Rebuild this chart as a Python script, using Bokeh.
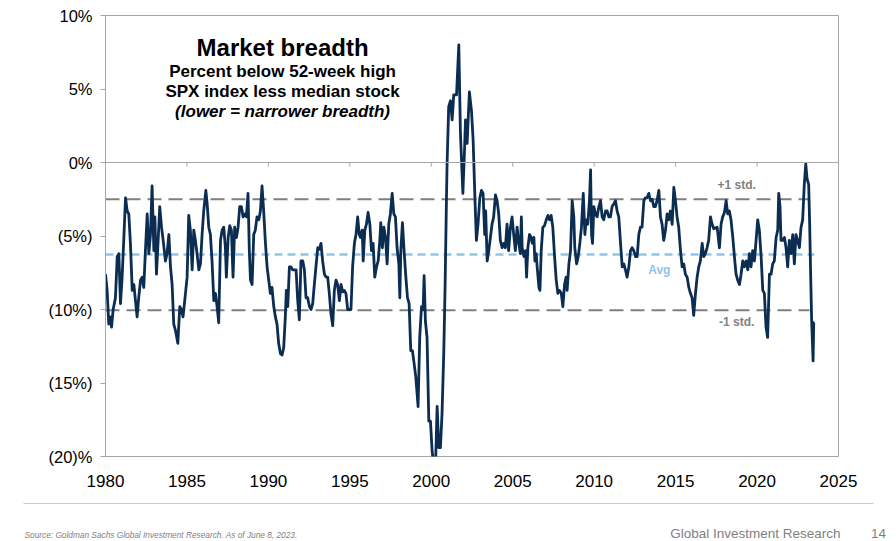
from bokeh.plotting import figure
from bokeh.models import Range1d, FixedTicker, Span, Label, ColumnDataSource
from bokeh.layouts import column, row
from bokeh.embed import file_html
from bokeh.resources import INLINE

# ---------------- data ----------------
dates = [
    1980.00, 1980.10, 1980.20, 1980.31, 1980.37, 1980.47, 1980.61, 1980.72, 1980.82, 1980.92,
    1981.02, 1981.12, 1981.23, 1981.33, 1981.43, 1981.53, 1981.64, 1981.74, 1981.84, 1981.94,
    1982.04, 1982.15, 1982.25, 1982.35, 1982.45, 1982.56, 1982.66, 1982.76, 1982.86, 1982.97,
    1983.03, 1983.13, 1983.21, 1983.33, 1983.44, 1983.54, 1983.68, 1983.78, 1983.89, 1983.99,
    1984.09, 1984.19, 1984.29, 1984.44, 1984.56, 1984.66, 1984.76, 1984.91, 1985.01, 1985.11,
    1985.21, 1985.32, 1985.42, 1985.52, 1985.62, 1985.73, 1985.83, 1985.93, 1986.03, 1986.16,
    1986.24, 1986.34, 1986.44, 1986.54, 1986.65, 1986.75, 1986.85, 1986.95, 1987.06, 1987.16,
    1987.26, 1987.36, 1987.42, 1987.53, 1987.63, 1987.73, 1987.83, 1987.93, 1988.04, 1988.14,
    1988.24, 1988.34, 1988.45, 1988.55, 1988.65, 1988.75, 1988.83, 1988.90, 1989.00, 1989.10,
    1989.20, 1989.30, 1989.41, 1989.51, 1989.61, 1989.71, 1989.82, 1989.92, 1990.02, 1990.12,
    1990.22, 1990.33, 1990.43, 1990.53, 1990.63, 1990.74, 1990.84, 1990.94, 1991.04, 1991.10,
    1991.19, 1991.29, 1991.39, 1991.49, 1991.60, 1991.70, 1991.80, 1991.90, 1992.00, 1992.11,
    1992.21, 1992.31, 1992.41, 1992.52, 1992.62, 1992.72, 1992.82, 1992.92, 1993.03, 1993.13,
    1993.23, 1993.33, 1993.44, 1993.54, 1993.64, 1993.74, 1993.84, 1993.95, 1994.05, 1994.15,
    1994.25, 1994.36, 1994.46, 1994.56, 1994.66, 1994.76, 1994.87, 1994.97, 1995.07, 1995.17,
    1995.28, 1995.38, 1995.48, 1995.58, 1995.65, 1995.76, 1995.82, 1995.92, 1996.02, 1996.12,
    1996.23, 1996.33, 1996.43, 1996.53, 1996.64, 1996.74, 1996.84, 1996.90, 1997.00, 1997.09,
    1997.19, 1997.29, 1997.39, 1997.49, 1997.60, 1997.70, 1997.80, 1997.90, 1998.01, 1998.07,
    1998.13, 1998.23, 1998.33, 1998.44, 1998.54, 1998.64, 1998.74, 1998.84, 1998.95, 1999.05,
    1999.19, 1999.29, 1999.40, 1999.50, 1999.56, 1999.64, 1999.74, 1999.85, 1999.95, 2000.05,
    2000.15, 2000.26, 2000.36, 2000.46, 2000.56, 2000.66, 2000.77, 2000.85, 2000.93, 2000.97,
    2001.07, 2001.18, 2001.28, 2001.38, 2001.55, 2001.69, 2001.79, 2001.94, 2002.04, 2002.10,
    2002.20, 2002.34, 2002.47, 2002.57, 2002.67, 2002.77, 2002.87, 2002.98, 2003.08, 2003.18,
    2003.28, 2003.34, 2003.43, 2003.53, 2003.63, 2003.73, 2003.83, 2003.94, 2004.04, 2004.14,
    2004.24, 2004.35, 2004.45, 2004.55, 2004.65, 2004.75, 2004.86, 2004.96, 2005.06, 2005.16,
    2005.27, 2005.37, 2005.47, 2005.53, 2005.58, 2005.69, 2005.79, 2005.85, 2005.93, 2006.03,
    2006.13, 2006.20, 2006.30, 2006.36, 2006.44, 2006.50, 2006.61, 2006.67, 2006.75, 2006.85,
    2006.95, 2007.06, 2007.16, 2007.26, 2007.36, 2007.46, 2007.57, 2007.67, 2007.77, 2007.87,
    2007.98, 2008.08, 2008.18, 2008.28, 2008.34, 2008.45, 2008.55, 2008.65, 2008.75, 2008.81,
    2008.92, 2009.02, 2009.12, 2009.22, 2009.33, 2009.43, 2009.51, 2009.61, 2009.71, 2009.78,
    2009.84, 2009.90, 2009.98, 2010.08, 2010.18, 2010.29, 2010.39, 2010.49, 2010.59, 2010.70,
    2010.80, 2010.90, 2011.00, 2011.10, 2011.21, 2011.31, 2011.41, 2011.51, 2011.62, 2011.72,
    2011.82, 2011.92, 2012.02, 2012.13, 2012.23, 2012.33, 2012.43, 2012.54, 2012.64, 2012.74,
    2012.84, 2012.94, 2013.05, 2013.15, 2013.25, 2013.35, 2013.46, 2013.56, 2013.66, 2013.76,
    2013.86, 2013.97, 2014.07, 2014.17, 2014.27, 2014.38, 2014.48, 2014.58, 2014.68, 2014.79,
    2014.89, 2014.99, 2015.09, 2015.19, 2015.30, 2015.40, 2015.50, 2015.60, 2015.71, 2015.81,
    2015.91, 2016.01, 2016.11, 2016.22, 2016.32, 2016.42, 2016.52, 2016.63, 2016.73, 2016.83,
    2016.93, 2017.03, 2017.14, 2017.24, 2017.34, 2017.55, 2017.69, 2017.79, 2017.89, 2018.00,
    2018.10, 2018.20, 2018.30, 2018.40, 2018.51, 2018.61, 2018.71, 2018.81, 2018.92, 2019.02,
    2019.12, 2019.22, 2019.33, 2019.43, 2019.53, 2019.63, 2019.73, 2019.84, 2019.94, 2020.04,
    2020.14, 2020.25, 2020.35, 2020.45, 2020.55, 2020.65, 2020.76, 2020.86, 2020.96, 2021.06,
    2021.17, 2021.27, 2021.33, 2021.41, 2021.47, 2021.57, 2021.68, 2021.78, 2021.88, 2021.98,
    2022.09, 2022.19, 2022.29, 2022.39, 2022.49, 2022.60, 2022.70, 2022.80, 2022.90, 2022.99,
    2023.07, 2023.17, 2023.23, 2023.29, 2023.35, 2023.44, 2023.48, 2023.52,
]
breadth = [
    -7.6, -8.7, -11.0, -10.5, -11.2, -10.0, -9.2, -6.4, -6.2, -9.6,
    -7.8, -5.3, -2.4, -3.3, -3.5, -5.5, -8.7, -8.3, -9.4, -10.5,
    -9.2, -8.0, -7.8, -8.5, -6.0, -3.5, -6.2, -4.9, -1.6, -6.0,
    -3.7, -7.6, -5.8, -3.0, -4.4, -5.3, -6.7, -6.2, -4.9, -7.1,
    -8.3, -11.0, -11.4, -12.3, -9.8, -10.0, -10.5, -8.9, -7.8, -3.6,
    -4.6, -7.3, -4.6, -5.3, -6.2, -7.3, -6.9, -4.9, -3.3, -1.9,
    -2.8, -4.4, -4.9, -6.7, -9.4, -8.9, -9.8, -10.9, -5.3, -4.6,
    -4.4, -5.8, -7.8, -5.1, -4.3, -4.6, -7.8, -4.4, -5.1, -4.4,
    -3.0, -3.0, -3.7, -3.5, -3.7, -2.1, -6.0, -8.0, -8.3, -4.9,
    -4.6, -3.7, -3.9, -3.3, -1.6, -3.3, -5.5, -7.1, -8.0, -8.9,
    -8.5, -9.8, -10.5, -11.0, -12.3, -13.0, -13.1, -12.6, -10.5, -8.7,
    -9.8, -7.1, -7.1, -7.3, -7.3, -7.3, -9.4, -10.7, -6.7, -6.7,
    -7.3, -9.2, -9.2, -9.8, -10.0, -9.6, -8.3, -7.1, -5.8, -5.9,
    -5.5, -6.7, -7.6, -7.8, -7.8, -8.9, -10.3, -11.1, -8.7, -8.0,
    -8.3, -9.4, -8.3, -8.8, -8.7, -8.9, -10.0, -10.0, -10.0, -7.1,
    -5.5, -4.9, -3.7, -4.9, -5.1, -4.6, -6.7, -4.6, -4.2, -3.4,
    -4.2, -6.0, -5.5, -7.8, -7.1, -6.7, -5.3, -4.1, -5.8, -4.4,
    -5.1, -6.9, -4.2, -3.5, -2.1, -3.5, -3.7, -5.8, -6.9, -9.2,
    -6.0, -4.1, -6.0, -7.8, -9.2, -9.6, -12.8, -12.8, -13.7, -14.6,
    -16.6, -11.9, -9.8, -10.0, -7.7, -10.8, -11.9, -17.6, -17.6, -19.6,
    -20.6, -20.6, -16.6, -19.4, -19.4, -17.1, -12.8, -8.3, -2.6, -0.1,
    3.8, 4.2, 2.9, 4.6, 4.6, 8.0, 2.0, -2.1, 0.8, 2.9,
    1.3, 4.8, 3.5, 1.5, -2.1, -5.3, -4.2, -2.4, -1.9, -2.1,
    -4.9, -3.3, -6.7, -6.0, -5.1, -4.2, -3.7, -2.2, -2.6, -3.5,
    -5.3, -5.8, -5.5, -5.8, -4.2, -6.0, -4.4, -3.7, -4.9, -6.0,
    -4.4, -5.5, -6.2, -3.7, -5.8, -6.4, -6.0, -7.8, -5.8, -4.9,
    -5.1, -5.5, -5.1, -6.7, -6.2, -7.1, -8.5, -8.7, -6.0, -4.4,
    -4.3, -3.9, -3.6, -3.9, -3.6, -4.4, -6.4, -8.0, -8.9, -8.7,
    -8.9, -9.8, -8.3, -7.8, -8.7, -6.9, -6.0, -2.6, -3.7, -5.8,
    -6.9, -6.4, -5.5, -4.4, -2.1, -4.9, -3.9, -4.2, -2.6, -0.5,
    -4.9, -5.5, -3.0, -3.5, -3.7, -3.0, -2.6, -3.7, -3.9, -3.3,
    -3.3, -3.7, -3.7, -3.0, -2.8, -2.6, -3.3, -3.7, -5.5, -7.1,
    -6.9, -7.3, -7.8, -7.1, -6.0, -5.8, -6.0, -6.4, -6.4, -4.9,
    -4.4, -4.4, -2.6, -2.4, -2.4, -2.1, -2.6, -2.5, -3.0, -3.0,
    -2.6, -1.9, -3.7, -4.2, -5.3, -4.6, -3.5, -3.9, -3.3, -4.2,
    -1.7, -2.6, -3.7, -4.4, -6.0, -7.1, -6.9, -7.6, -7.8, -8.5,
    -8.9, -9.2, -10.4, -8.9, -7.8, -7.1, -6.7, -5.5, -6.4, -6.2,
    -5.8, -5.3, -3.7, -4.2, -4.5, -4.4, -5.8, -4.2, -3.7, -3.4,
    -2.6, -3.5, -3.3, -3.9, -5.1, -6.4, -7.6, -8.0, -8.3, -7.6,
    -6.7, -7.1, -6.7, -7.3, -6.2, -7.1, -6.0, -6.7, -5.3, -3.9,
    -4.6, -6.4, -8.7, -8.9, -11.2, -11.9, -7.6, -7.6, -6.9, -6.7,
    -5.1, -4.6, -2.1, -3.0, -5.3, -5.3, -5.1, -5.8, -7.1, -5.3,
    -6.2, -4.9, -6.9, -4.9, -5.3, -5.8, -4.4, -3.9, -1.5, -0.1,
    -1.1, -1.5, -4.2, -7.6, -10.7, -13.5, -10.9, -10.9,
]

avg_level = -6.25
plus_std_level = -2.5
minus_std_level = -10.05

x_ticks = [1980, 1985, 1990, 1995, 2000, 2005, 2010, 2015, 2020, 2025]
y_ticks = [-20, -15, -10, -5, 0, 5, 10]
y_tick_labels = ["(20)%", "(15%)", "(10%)", "(5%)", "0%", "5%", "10%"]

title_lines = ["Market breadth", "Percent below 52-week high",
               "SPX index less median stock", "(lower = narrower breadth)"]
source_text = "Source: Goldman Sachs Global Investment Research. As of June 8, 2023."
brand_text = "Global Investment Research"
page_number = "14"

# ---------------- styling ----------------
FONT = "Liberation Sans"
NAVY = "#0c2d52"
GREY = "#7f7f7f"
FRAME = "#a6a6a6"
LIGHTBLUE = "#8ec5ea"

W = 896
H_MAIN = 495
H_FOOT = 46
B_LEFT, B_RIGHT = 105, 58

p = figure(width=W, height=H_MAIN, x_range=Range1d(1980, 2025), y_range=Range1d(-20, 10),
           output_backend="svg", toolbar_location=None,
           min_border_left=B_LEFT, min_border_right=B_RIGHT, min_border_top=15,
           min_border_bottom=39)
p.xgrid.visible = False
p.ygrid.visible = False
p.outline_line_color = FRAME
p.outline_line_width = 1
p.background_fill_color = "white"
p.border_fill_color = "white"

# axes
p.xaxis.ticker = FixedTicker(ticks=x_ticks)
p.xaxis.axis_line_color = None
p.xaxis.major_tick_line_color = None
p.xaxis.minor_tick_line_color = None
p.xaxis.major_label_standoff = 12
p.xaxis.major_label_text_font = FONT
p.xaxis.major_label_text_font_size = "17px"
p.xaxis.major_label_text_color = "#000000"

p.yaxis.ticker = FixedTicker(ticks=y_ticks)
p.yaxis.major_label_overrides = {t: lab for t, lab in zip(y_ticks, y_tick_labels)}
p.yaxis.axis_line_color = FRAME
p.yaxis.major_tick_line_color = FRAME
p.yaxis.major_tick_out = 5
p.yaxis.major_tick_in = 0
p.yaxis.minor_tick_line_color = None
p.yaxis.major_label_standoff = 8
p.yaxis.major_label_text_font = FONT
p.yaxis.major_label_text_font_size = "16.5px"
p.yaxis.major_label_text_color = "#000000"

# zero line with small downward ticks
p.add_layout(Span(location=0, dimension="width", line_color=FRAME, line_width=1))
p.segment(x0=x_ticks[1:-1], y0=[0] * (len(x_ticks) - 2), x1=x_ticks[1:-1],
          y1=[-0.28] * (len(x_ticks) - 2), line_color=FRAME, line_width=1)

# reference levels
x_start, x_end = dates[0], dates[-1]
p.segment(x0=[x_start, x_start], y0=[plus_std_level, minus_std_level],
          x1=[x_end - 0.3, x_end - 0.3], y1=[plus_std_level, minus_std_level],
          line_color=GREY, line_width=2, line_dash="14 7")
p.segment(x0=[x_start], y0=[avg_level], x1=[x_end], y1=[avg_level],
          line_color=LIGHTBLUE, line_width=2.5, line_dash="8 5")

# the series
src = ColumnDataSource(data=dict(x=dates, y=breadth))
p.line("x", "y", source=src, line_color=NAVY, line_width=2.8, line_join="round")

# reference labels
p.add_layout(Label(x=2018.75, y=plus_std_level + 1.0, text="+1 std.", text_font=FONT,
                   text_font_size="12px", text_font_style="bold", text_color=GREY,
                   text_align="center", text_baseline="middle"))
p.add_layout(Label(x=2018.75, y=minus_std_level - 0.8, text="-1 std.", text_font=FONT,
                   text_font_size="12px", text_font_style="bold", text_color=GREY,
                   text_align="center", text_baseline="middle"))
p.add_layout(Label(x=2014.0, y=avg_level - 1.05, text="Avg", text_font=FONT,
                   text_font_size="12px", text_font_style="bold", text_color=LIGHTBLUE,
                   text_align="center", text_baseline="middle"))

# title block
title_x = 1990.87
title_y = [7.82, 6.19, 4.83, 3.47]
title_sizes = ["24px", "17px", "17px", "17px"]
title_styles = ["bold", "bold", "bold", "bold italic"]
for txt, yy, sz, st in zip(title_lines, title_y, title_sizes, title_styles):
    p.add_layout(Label(x=title_x, y=yy, text=txt, text_font=FONT, text_font_size=sz,
                       text_font_style=st, text_color="#000000",
                       text_align="center", text_baseline="middle"))

# ---------------- footer (coordinates = page pixels) ----------------
f = figure(width=W, height=H_FOOT, x_range=Range1d(0, W), y_range=Range1d(H_FOOT, 0),
           output_backend="svg", toolbar_location=None,
           min_border_left=0, min_border_right=0, min_border_top=0, min_border_bottom=0)
f.axis.visible = False
f.xgrid.visible = False
f.ygrid.visible = False
f.outline_line_color = None
f.background_fill_color = "white"
f.border_fill_color = "white"
f.segment(x0=[23], y0=[8], x1=[873], y1=[8], line_color="#c8c8c8", line_width=1)
f.add_layout(Label(x=24, y=39, text=source_text, text_font=FONT, text_font_size="8.3px",
                   text_font_style="italic", text_color=GREY,
                   text_align="left", text_baseline="middle"))
f.add_layout(Label(x=840, y=38, text=brand_text, text_font=FONT, text_font_size="13.5px",
                   text_color=GREY, text_align="right", text_baseline="middle"))
f.add_layout(Label(x=878, y=38, text=page_number, text_font=FONT, text_font_size="13.5px",
                   text_color=GREY, text_align="center", text_baseline="middle"))

layout = column(p, row(f, spacing=0), spacing=0)
open("out.html", "w").write(file_html(layout, INLINE))
